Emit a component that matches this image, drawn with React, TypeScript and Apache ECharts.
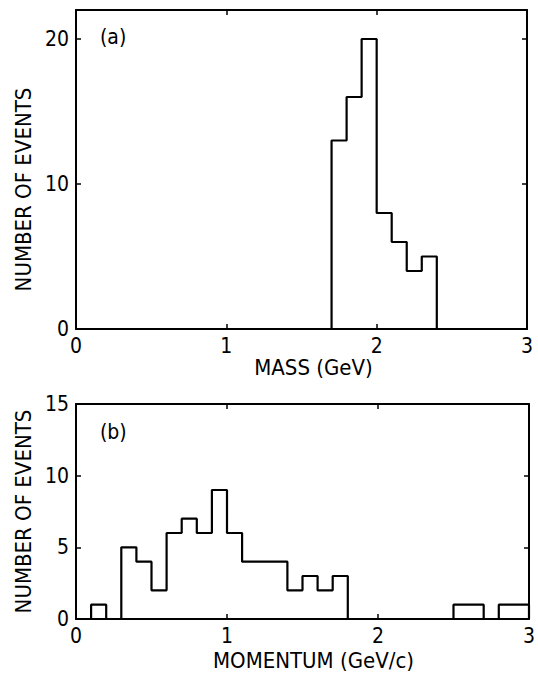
import React, { useEffect, useRef } from "react";
import * as echarts from "echarts";

// Panel (a): invariant mass histogram (bin edges in GeV, counts per bin)
const massEdges = [1.7, 1.8, 1.9, 2.0, 2.1, 2.2, 2.3, 2.4];
const massCounts = [13, 16, 20, 8, 6, 4, 5];

// Panel (b): momentum histogram (bin edges in GeV/c, counts per bin)
const momentumEdges = [0.1, 0.2, 0.3, 0.4, 0.5, 0.6, 0.7, 0.8, 0.9, 1.0, 1.1, 1.4, 1.5, 1.6, 1.7, 1.8, 2.5, 2.7, 2.8, 3.0];
const momentumCounts = [1, 0, 5, 4, 2, 6, 7, 6, 9, 6, 4, 2, 3, 2, 3, 0, 1, 0, 1];

const xRange = [0, 3];
const massYRange = [0, 22];
const momentumYRange = [0, 15];

const FONT = '"DejaVu Sans Condensed", "DejaVu Sans", sans-serif';

function outline(edges: number[], counts: number[]) {
  const pts: number[][] = [[edges[0], 0]];
  counts.forEach((c, i) => {
    pts.push([edges[i], c]);
    pts.push([edges[i + 1], c]);
  });
  pts.push([edges[edges.length - 1], 0]);
  return pts;
}

const axisLine = { show: true, onZero: false, lineStyle: { color: "#000", width: 2 } };
const tick = { show: true, inside: true, length: 5, lineStyle: { color: "#000", width: 1.5 } };
const label = { color: "#000", fontSize: 21, fontFamily: FONT };

function xMain(grid: number, name: string, nameGap: number, padLeft: number) {
  return {
    type: "value",
    gridIndex: grid,
    min: xRange[0],
    max: xRange[1],
    interval: 1,
    position: "bottom",
    axisLine,
    axisTick: tick,
    splitLine: { show: false },
    axisLabel: { ...label, margin: 6 },
    name,
    nameLocation: "middle",
    nameGap,
    nameTextStyle: { color: "#000", fontSize: 22, fontFamily: FONT, padding: [0, 0, 0, padLeft] },
  };
}
function xTop(grid: number) {
  return {
    type: "value",
    gridIndex: grid,
    min: xRange[0],
    max: xRange[1],
    interval: 1,
    position: "top",
    axisLine,
    axisTick: tick,
    splitLine: { show: false },
    axisLabel: { show: false },
  };
}
function yMain(grid: number, range: number[], interval: number, padRight: number) {
  return {
    type: "value",
    gridIndex: grid,
    min: range[0],
    max: range[1],
    interval,
    position: "left",
    axisLine,
    axisTick: tick,
    splitLine: { show: false },
    axisLabel: { ...label, margin: 7, showMaxLabel: range[1] % interval === 0 },
    name: "NUMBER OF EVENTS",
    nameLocation: "middle",
    nameGap: 40,
    nameTextStyle: { color: "#000", fontSize: 22, fontFamily: FONT, padding: [0, padRight, 0, 0] },
  };
}
function yRight(grid: number, range: number[], interval: number) {
  return {
    type: "value",
    gridIndex: grid,
    min: range[0],
    max: range[1],
    interval,
    position: "right",
    axisLine,
    axisTick: tick,
    splitLine: { show: false },
    axisLabel: { show: false },
  };
}

export default function App() {
  const ref = useRef<HTMLDivElement>(null);
  useEffect(() => {
    if (!ref.current) return;
    const chart = echarts.init(ref.current, undefined, { renderer: "svg" });
    chart.setOption({
      animation: false,
      backgroundColor: "#fff",
      grid: [
        { left: 76, right: 11, top: 10, bottom: 344 },
        { left: 76, right: 9, top: 404, bottom: 54 },
      ],
      xAxis: [
        xMain(0, "MASS (GeV)", 26, 24),
        xTop(0),
        xMain(1, "MOMENTUM (GeV/c)", 30, 22),
        xTop(1),
      ],
      yAxis: [
        yMain(0, massYRange, 10, 40),
        yRight(0, massYRange, 10),
        yMain(1, momentumYRange, 5, 0),
        yRight(1, momentumYRange, 5),
      ],
      graphic: [
        { type: "text", left: 100, top: 26, style: { text: "(a)", fontSize: 21, fontFamily: FONT, fill: "#000" } },
        { type: "text", left: 100, top: 421, style: { text: "(b)", fontSize: 21, fontFamily: FONT, fill: "#000" } },
      ],
      series: [
        {
          type: "line",
          xAxisIndex: 0,
          yAxisIndex: 0,
          data: outline(massEdges, massCounts),
          showSymbol: false,
          lineStyle: { color: "#000", width: 2.2 },
          silent: true,
        },
        {
          type: "line",
          xAxisIndex: 2,
          yAxisIndex: 2,
          data: outline(momentumEdges, momentumCounts),
          showSymbol: false,
          lineStyle: { color: "#000", width: 2.2 },
          silent: true,
        },
      ],
    });
    return () => chart.dispose();
  }, []);
  return (
    <div
      ref={ref}
      style={{ position: "fixed", left: 0, top: 0, width: 538, height: 673, background: "#fff" }}
    />
  );
}
